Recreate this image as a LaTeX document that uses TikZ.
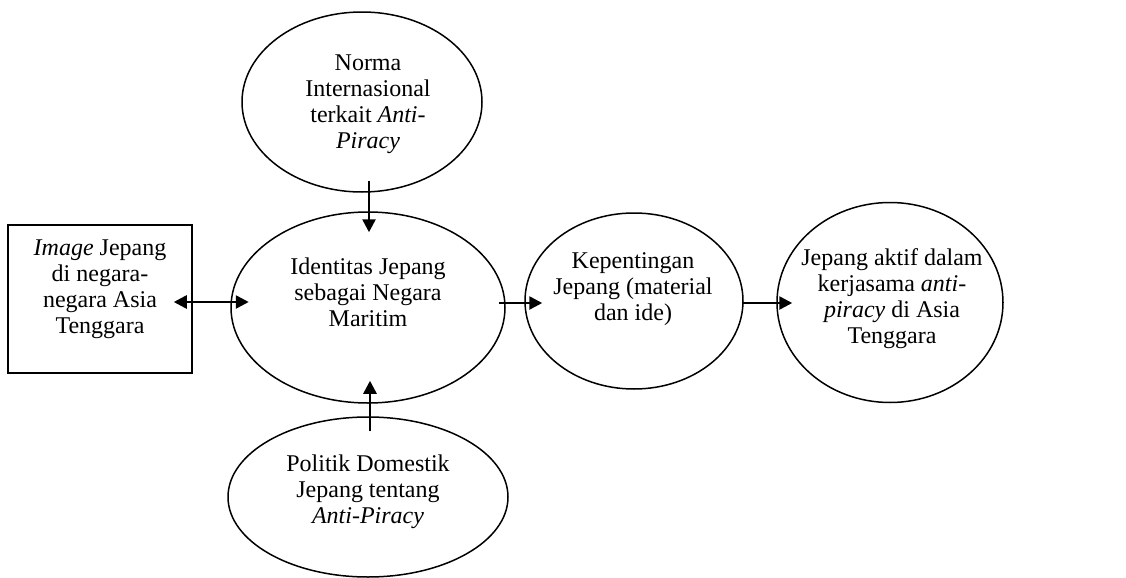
\documentclass[tikz,border=0pt]{standalone}
\usepackage{fontspec}
\setmainfont{Liberation Serif}
\usetikzlibrary{shapes.geometric,arrows.meta}
\tikzset{
  oval/.style={draw, line width=0.75pt, ellipse, inner sep=0pt},
  rbox/.style={draw, line width=0.75pt, rectangle, inner sep=0pt},
  txt/.style={align=center, inner sep=0pt, font=\fontsize{12}{13}\selectfont},
  arr/.style={line width=1.3pt, -{Triangle[width=6.5pt,length=6.5pt]}},
  darr/.style={line width=1.3pt, {Triangle[width=6.5pt,length=6.5pt]}-{Triangle[width=6.5pt,length=6.5pt]}}
}
\begin{document}
\begin{tikzpicture}[x=0.5pt,y=-0.5pt]
\useasboundingbox (0,0) rectangle (1126,578);
% shapes
\node[oval, minimum width=120pt, minimum height=90pt] (norma) at (362,102) {};
\node[oval, minimum width=137pt, minimum height=95.5pt] (ident) at (368,307.5) {};
\node[rbox, minimum width=92pt, minimum height=74pt] (img) at (100,299) {};
\node[oval, minimum width=109pt, minimum height=88pt] (kep) at (634,301) {};
\node[oval, minimum width=113pt, minimum height=100pt] (aktif) at (890,302.5) {};
\node[oval, minimum width=140pt, minimum height=80pt] (pol) at (368,497) {};
% texts
\node[txt] (tnorma) at (368,104) {Norma\\Internasional\\terkait \textit{Anti-}\\\textit{Piracy}};
\node[txt] (tident) at (368,292) {Identitas Jepang\\sebagai Negara\\Maritim};
\node[txt] (timg) at (100,289) {\textit{Image} Jepang\\di negara-\\negara Asia\\Tenggara};
\node[txt] (tkep) at (633,289) {Kepentingan\\Jepang (material\\dan ide)};
\node[txt] (taktif) at (892,299) {Jepang aktif dalam\\kerjasama \textit{anti-}\\\textit{piracy} di Asia\\Tenggara};
\node[txt] (tpol) at (368,492) {Politik Domestik\\Jepang tentang\\\textit{Anti-Piracy}};
% connectors
\draw[arr] ([shift={(7,-12)}]norma.south) -- ([shift={(1,21)}]ident.north);
\draw[darr] ([shift={(-19,3)}]img.east) -- ([shift={(18.5,-5.5)}]ident.west);
\draw[arr] ([shift={(-7,-4.5)}]ident.east) -- ([shift={(18,2)}]kep.west);
\draw[arr] ([shift={(-1,2)}]kep.east) -- ([shift={(16,0.5)}]aktif.west);
\draw[arr] ([shift={(2,15)}]pol.north) -- ([shift={(2,-23)}]ident.south);
\end{tikzpicture}
\end{document}
